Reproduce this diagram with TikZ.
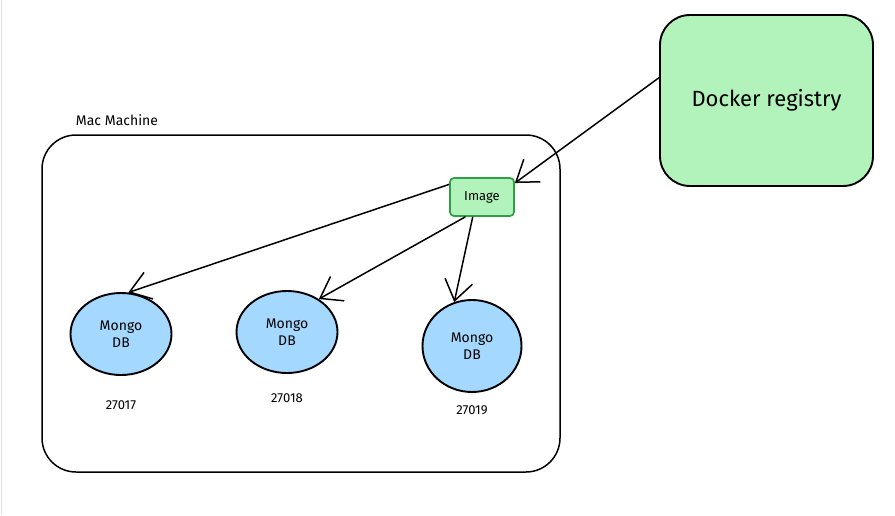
\documentclass[tikz,border=0pt]{standalone}
\usepackage{fontspec}
\setmainfont{Fira Sans}
\usetikzlibrary{shapes.geometric, arrows.meta, positioning}
\definecolor{regfill}{HTML}{B2F2BB}
\definecolor{imgline}{HTML}{2F9E44}
\definecolor{dbfill}{HTML}{A5D8FF}
\tikzset{
    machine/.style={rectangle, draw, line width=1.5pt, rounded corners=34pt, inner sep=0pt},
    registry/.style={rectangle, draw, line width=1.9pt, rounded corners=30pt, fill=regfill, align=center, inner sep=0pt, font=\fontsize{22}{26}\selectfont},
    imagebox/.style={rectangle, draw=imgline, line width=1.7pt, rounded corners=4pt, fill=regfill, inner sep=0pt, font=\fontsize{13}{15}\selectfont},
    mongo/.style={ellipse, draw, line width=1.9pt, fill=dbfill, align=center, inner sep=0pt, minimum width=101pt, minimum height=82pt, font=\fontsize{14}{17}\selectfont},
    port/.style={font=\fontsize{13}{15}\selectfont},
    arrow/.style={line width=1.5pt, -{Straight Barb[length=20pt, width=28pt, line width=1.5pt]}}
}
\begin{document}
\begin{tikzpicture}[x=1pt, y=-1pt]
            \useasboundingbox (0,0) rectangle (895,515);
            \draw[black!12, line width=1pt] (1.5,0) -- (1.5,515);

            \node[machine, minimum width=518pt, minimum height=337pt] (mac) at (301,303.5) {};
            \node[font=\fontsize{14}{16}\selectfont] (maclabel) at (117,120) {Mac Machine};
            \node[registry, minimum width=213pt, minimum height=171pt] (docker) at (766.5,100.5) {Docker registry};
            \node[imagebox, minimum width=64pt, minimum height=38pt] (image) at (482,197) {Image};

            \node[mongo] (db1) at (121,334) {Mongo\\DB};
            \node[mongo] (db2) at (287,332) {Mongo\\DB};
            \node[mongo, minimum width=99pt, minimum height=92pt] (db3) at (472,346) {Mongo\\DB};

            \node[port] (p1) at (121,405) {27017};
            \node[port] (p2) at (287,398) {27018};
            \node[port] (p3) at (472,410) {27019};

            \draw[arrow] (docker.168) -- (image.23);
            \draw[arrow] (image.159) -- (db1.80);
            \draw[arrow] (image.230) -- (db2.46);
            \draw[arrow] (image.245) -- (db3.112);
        \end{tikzpicture}
\end{document}
